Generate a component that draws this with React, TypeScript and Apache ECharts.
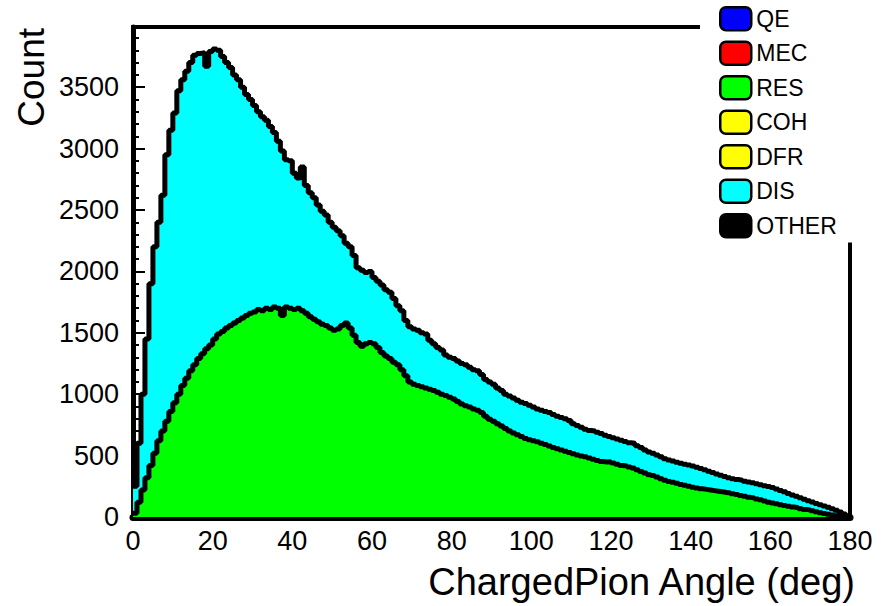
import React, { useEffect, useRef } from "react";
import * as echarts from "echarts";

// 1-degree bins from 0 to 180 deg
const binLowEdges: number[] = Array.from({ length: 180 }, (_, i) => i);

const resCounts = [
  30, 120, 220, 320, 420, 520, 620, 700, 780, 860,
  930, 1000, 1070, 1130, 1190, 1240, 1290, 1330, 1370, 1400,
  1450, 1490, 1510, 1540, 1560, 1580, 1600, 1620, 1640, 1660,
  1670, 1690, 1680, 1700, 1690, 1710, 1700, 1640, 1710, 1700,
  1690, 1700, 1680, 1660, 1630, 1610, 1590, 1570, 1560, 1540,
  1520, 1530, 1560, 1580, 1540, 1480, 1420, 1390, 1410, 1420,
  1410, 1380, 1340, 1310, 1290, 1260, 1240, 1200, 1150, 1100,
  1080, 1070, 1060, 1050, 1040, 1030, 1015, 1000, 990, 975,
  960, 940, 920, 905, 895, 880, 870, 850, 820, 795,
  780, 760, 740, 720, 700, 685, 670, 655, 640, 630,
  620, 612, 600, 590, 578, 565, 555, 545, 535, 525,
  515, 505, 497, 490, 480, 470, 460, 452, 448, 450,
  440, 430, 420, 415, 408, 400, 385, 370, 358, 345,
  338, 325, 312, 300, 290, 283, 275, 265, 258, 250,
  242, 236, 230, 225, 220, 215, 210, 205, 200, 196,
  190, 183, 175, 168, 160, 155, 147, 140, 130, 120,
  114, 108, 100, 93, 87, 81, 76, 68, 62, 57,
  50, 42, 35, 28, 22, 16, 10, 6, 3, 1,
];

const disCounts = [
  220, 480, 780, 1130, 1480, 1680, 1780, 1920, 2170, 2290,
  2360, 2470, 2490, 2500, 2510, 2520, 2485, 2450, 2300, 2390,
  2360, 2310, 2240, 2160, 2100, 2020, 1960, 1880, 1800, 1740,
  1680, 1610, 1580, 1530, 1490, 1420, 1360, 1340, 1200, 1200,
  1110, 1060, 1170, 1040, 1010, 990, 950, 920, 900, 860,
  840, 800, 730, 650, 660, 650, 610, 620, 580, 580,
  540, 540, 550, 540, 540, 520, 480, 480, 450, 450,
  450, 450, 440, 440, 400, 380, 365, 360, 330, 325,
  330, 330, 330, 335, 325, 320, 320, 310, 300, 305,
  300, 290, 290, 280, 285, 285, 280, 280, 285, 280,
  275, 268, 270, 270, 272, 270, 265, 265, 265, 260,
  245, 240, 233, 225, 225, 230, 230, 228, 217, 205,
  205, 205, 205, 200, 197, 200, 195, 195, 187, 185,
  182, 180, 178, 175, 175, 172, 170, 173, 172, 173,
  173, 169, 165, 160, 152, 147, 140, 135, 130, 124,
  122, 122, 125, 124, 125, 123, 123, 122, 125, 128,
  126, 120, 116, 112, 105, 99, 92, 88, 82, 75,
  72, 68, 65, 62, 58, 52, 45, 34, 22, 9,
];

const legendNames = ["QE", "MEC", "RES", "COH", "DFR", "DIS", "OTHER"];
const legendColors = ["#0000ff", "#ff0000", "#00ff00", "#ffff00", "#ffff00", "#00ffff", "#000000"];

const xTitle = "ChargedPion Angle (deg)";
const yTitle = "Count";

const FONT = "'Liberation Sans', Arial, Helvetica, sans-serif";

// Build step-histogram points (bin low edges + closing upper edge)
function histData(values: number[]): [number, number][] {
  const pts: [number, number][] = values.map((v, i) => [binLowEdges[i], v]);
  pts.push([binLowEdges[values.length - 1] + 1, values[values.length - 1]]);
  return pts;
}

// THStack-style cumulative: RES, then RES + DIS
const stackedDis = resCounts.map((v, i) => v + disCounts[i]);

export default function App() {
  const ref = useRef<HTMLDivElement>(null);

  useEffect(() => {
    document.body.style.margin = "0";
    if (!ref.current) return;
    const chart = echarts.init(ref.current, undefined, { renderer: "svg" });

    const emptySeries = (name: string, color: string) => ({
      name,
      type: "line",
      data: [],
      color,
      symbol: "none",
    });

    const option: any = {
      animation: false,
      backgroundColor: "#ffffff",
      grid: {
        left: 133,
        right: 37,
        top: 27,
        bottom: 89,
        show: true,
        borderColor: "#000",
        borderWidth: 4,
        backgroundColor: "transparent",
      },
      xAxis: {
        type: "value",
        min: 0,
        max: 180,
        interval: 20,
        axisLine: { show: true, lineStyle: { color: "#000", width: 7 } },
        axisTick: { show: true, inside: true, length: 10, lineStyle: { color: "#000", width: 2 } },
        minorTick: { show: true, splitNumber: 4, length: 6, lineStyle: { color: "#000", width: 2 } },
        axisLabel: { color: "#000", fontSize: 27, fontFamily: FONT, margin: 10, formatter: (v: number) => String(v) },
        splitLine: { show: false },
        minorSplitLine: { show: false },
      },
      yAxis: {
        type: "value",
        min: 0,
        max: 3990,
        interval: 500,
        axisLine: { show: true, lineStyle: { color: "#000", width: 5 } },
        axisTick: { show: true, inside: true, length: 12, lineStyle: { color: "#000", width: 2 } },
        minorTick: { show: true, splitNumber: 5, length: 6, lineStyle: { color: "#000", width: 2 } },
        axisLabel: {
          color: "#000",
          fontSize: 27,
          fontFamily: FONT,
          margin: 14,
          showMaxLabel: false,
          formatter: (v: number) => String(v),
        },
        splitLine: { show: false },
      },
      legend: {
        orient: "vertical",
        left: 700,
        top: 0,
        backgroundColor: "#ffffff",
        padding: [6, 60, 4, 19],
        itemWidth: 31,
        itemHeight: 23,
        itemGap: 9,
        itemTextGap: 3,
        icon: "roundRect",
        selectedMode: false,
        textStyle: { fontSize: 23, color: "#000", fontFamily: FONT },
        itemStyle: { borderColor: "#000", borderWidth: 2.5 },
        data: legendNames.map((n, i) => ({ name: n, itemStyle: { color: legendColors[i] } })),
      },
      graphic: [
        {
          type: "text",
          x: 855,
          y: 582,
          style: {
            text: xTitle,
            fontSize: 38,
            fontFamily: FONT,
            fill: "#000",
            align: "right",
            verticalAlign: "middle",
          },
        },
        {
          type: "text",
          x: 31,
          y: 28,
          rotation: Math.PI / 2,
          style: {
            text: yTitle,
            fontSize: 37,
            fontFamily: FONT,
            fill: "#000",
            align: "right",
            verticalAlign: "middle",
          },
        },
      ],
      series: [
        emptySeries("QE", legendColors[0]),
        emptySeries("MEC", legendColors[1]),
        {
          name: "DIS",
          type: "line",
          step: "end",
          symbol: "none",
          color: legendColors[5],
          z: 3,
          lineStyle: { color: "#000", width: 5 },
          areaStyle: { color: legendColors[5], opacity: 1, origin: "start" },
          data: histData(stackedDis),
        },
        {
          name: "RES",
          type: "line",
          step: "end",
          symbol: "none",
          color: legendColors[2],
          z: 4,
          lineStyle: { color: "#000", width: 5 },
          areaStyle: { color: legendColors[2], opacity: 1, origin: "start" },
          data: histData(resCounts),
        },
        emptySeries("COH", legendColors[3]),
        emptySeries("DFR", legendColors[4]),
        emptySeries("OTHER", legendColors[6]),
      ],
    };

    chart.setOption(option);
    return () => {
      chart.dispose();
    };
  }, []);

  return (
    <div
      ref={ref}
      style={{ width: 887, height: 606, position: "fixed", left: 0, top: 0, background: "#fff" }}
    />
  );
}
